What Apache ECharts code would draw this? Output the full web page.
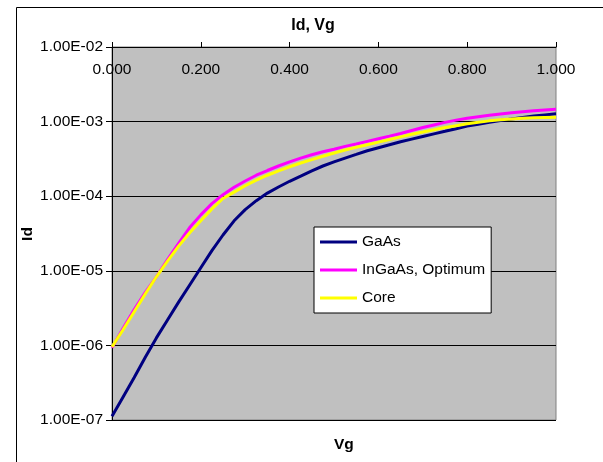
<!DOCTYPE html>
<html>
<head>
<meta charset="utf-8">
<script src="https://cdn.jsdelivr.net/npm/echarts@6/dist/echarts.min.js"></script>
<style>html,body{margin:0;padding:0;background:#fff;}#c{width:603px;height:462px;}</style>
</head>
<body>
<div id="c"></div>
<script>
// Vg values (V)
const vg = [0,0.025,0.05,0.075,0.1,0.125,0.15,0.175,0.2,0.225,0.25,0.275,0.3,0.325,0.35,0.375,0.4,0.425,0.45,0.475,0.5,0.525,0.55,0.575,0.6,0.625,0.65,0.675,0.7,0.725,0.75,0.775,0.8,0.825,0.85,0.875,0.9,0.925,0.95,0.975,1.0];
// Id values (A)
const idGaAs = [1.12e-7,2.04e-7,3.72e-7,6.92e-7,1.26e-6,2.19e-6,3.80e-6,6.46e-6,1.10e-5,1.86e-5,3.02e-5,4.68e-5,6.61e-5,8.71e-5,1.10e-4,1.33e-4,1.585e-4,1.86e-4,2.19e-4,2.54e-4,2.88e-4,3.24e-4,3.63e-4,4.07e-4,4.47e-4,4.90e-4,5.37e-4,5.82e-4,6.31e-4,6.84e-4,7.41e-4,8.04e-4,8.71e-4,9.23e-4,9.77e-4,1.035e-3,1.08e-3,1.135e-3,1.19e-3,1.23e-3,1.27e-3];
const idInGaAs = [9.33e-7,1.70e-6,3.02e-6,5.13e-6,8.32e-6,1.41e-5,2.34e-5,3.80e-5,5.62e-5,7.94e-5,1.047e-4,1.32e-4,1.60e-4,1.91e-4,2.21e-4,2.54e-4,2.88e-4,3.24e-4,3.59e-4,3.94e-4,4.27e-4,4.65e-4,5.01e-4,5.43e-4,5.89e-4,6.38e-4,6.92e-4,7.59e-4,8.32e-4,9.02e-4,9.77e-4,1.047e-3,1.109e-3,1.161e-3,1.216e-3,1.268e-3,1.312e-3,1.355e-3,1.396e-3,1.429e-3,1.462e-3];
const idCore = [9.55e-7,1.62e-6,2.82e-6,4.90e-6,8.32e-6,1.35e-5,2.14e-5,3.24e-5,4.68e-5,6.76e-5,9.33e-5,1.135e-4,1.38e-4,1.64e-4,1.91e-4,2.19e-4,2.48e-4,2.79e-4,3.09e-4,3.43e-4,3.80e-4,4.17e-4,4.52e-4,4.90e-4,5.31e-4,5.75e-4,6.24e-4,6.76e-4,7.24e-4,7.76e-4,8.32e-4,8.81e-4,9.33e-4,9.77e-4,1.023e-3,1.059e-3,1.08e-3,1.109e-3,1.122e-3,1.135e-3,1.148e-3];
const seriesNames = ['GaAs','InGaAs, Optimum','Core'];
const seriesColors = ['#000080','#ff00ff','#ffff00'];
const chartTitle = 'Id, Vg';
const xTitle = 'Vg';
const yTitle = 'Id';

function pair(xs, ys){ return xs.map((x,i)=>[x, ys[i]]); }
function sci(v){
  const e = Math.round(Math.log10(v));
  const m = v / Math.pow(10, e);
  return m.toFixed(2) + 'E' + (e < 0 ? '-' : '+') + String(Math.abs(e)).padStart(2,'0');
}
const FONT = 'Liberation Sans, Arial, sans-serif';
const FS = 15.5;
const chart = echarts.init(document.getElementById('c'), null, {renderer:'canvas'});
const allData = [idGaAs, idInGaAs, idCore];
chart.setOption({
  animation: false,
  backgroundColor: '#ffffff',
  title: {
    text: chartTitle, left: 308, top: 13, textAlign: 'center',
    textStyle: {fontFamily: FONT, fontSize: 16, fontWeight: 'bold', color: '#000'}
  },
  grid: {
    left: 112, top: 47, right: 47, bottom: 42,
    show: true, backgroundColor: '#c0c0c0', borderColor: '#808080', borderWidth: 1
  },
  legend: {
    left: 314, top: 227, orient: 'vertical',
    backgroundColor: '#ffffff', borderColor: '#000000', borderWidth: 1,
    padding: [7, 6, 7, 6], itemGap: 12, itemWidth: 37, itemHeight: 3, itemTextGap: 5,
    icon: 'rect',
    textStyle: {fontFamily: FONT, fontSize: FS, color: '#000', lineHeight: 16},
    data: seriesNames
  },
  xAxis: {
    type: 'value', position: 'top', min: 0, max: 1, interval: 0.2,
    axisLine: {show: true, onZero: false, lineStyle: {color: '#000', width: 1}},
    axisTick: {show: true, inside: false, length: 5, lineStyle: {color: '#000'}},
    axisLabel: {inside: true, margin: 15, fontFamily: FONT, fontSize: FS, color: '#000',
      formatter: v => v.toFixed(3)},
    splitLine: {show: false}
  },
  yAxis: {
    type: 'log', logBase: 10, min: 1e-7, max: 1e-2,
    axisLine: {show: true, lineStyle: {color: '#000', width: 1}},
    axisTick: {show: true, inside: false, length: 6, lineStyle: {color: '#000'}},
    axisLabel: {margin: 9, fontFamily: FONT, fontSize: FS, color: '#000', formatter: sci},
    splitLine: {show: true, lineStyle: {color: '#000', width: 1}},
    minorTick: {show: false}
  },
  graphic: [
    {type: 'rect', left: 14, top: 5, z: -10, silent: true,
     shape: {x: 0.5, y: 0.5, width: 587, height: 520},
     style: {fill: 'none', stroke: '#000', lineWidth: 1}},
    {type: 'text', left: 334, top: 437, silent: true,
     style: {text: xTitle, fontFamily: FONT, fontSize: FS, fontWeight: 'bold', fill: '#000', align: 'center'}},
    {type: 'text', x: 28, y: 234, rotation: Math.PI / 2, silent: true,
     style: {text: yTitle, fontFamily: FONT, fontSize: FS, fontWeight: 'bold', fill: '#000',
       align: 'center', verticalAlign: 'middle'}}
  ],
  series: seriesNames.map((n, i) => ({
    name: n, type: 'line', data: pair(vg, allData[i]), showSymbol: false, symbol: 'none',
    smooth: false, lineStyle: {color: seriesColors[i], width: 3}, itemStyle: {color: seriesColors[i]}
  }))
});
</script>
</body>
</html>
